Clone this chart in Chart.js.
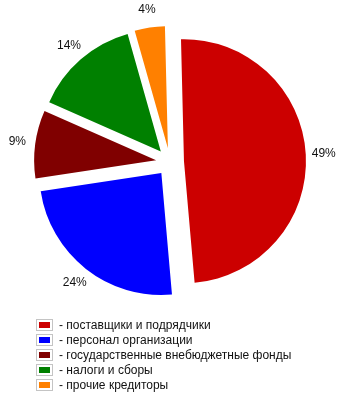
<!DOCTYPE html>
<html>
<head>
<meta charset="utf-8">
<script src="https://cdn.jsdelivr.net/npm/chart.js@4/dist/chart.umd.min.js"></script>
<style>
  body { margin: 0; background: #fff; }
  #wrap { position: relative; width: 346px; height: 402px; }
  #legend { position: absolute; left: 36px; top: 318px; font: 12px "Liberation Sans", Arial, sans-serif; color: #111; }
  .row { height: 15px; line-height: 15px; white-space: nowrap; }
  .box { display: inline-block; vertical-align: middle; border: 1px solid #c4c4c4; padding: 2px; margin-right: 6px; margin-top: -2px; }
  .box span { display: block; width: 11px; height: 6px; }
</style>
</head>
<body>
<div id="wrap">
  <canvas id="myChart" width="346" height="402"></canvas>
  <div id="legend"></div>
</div>
<script>
const categories = ['поставщики и подрядчики', 'персонал организации', 'государственные внебюджетные фонды', 'налоги и сборы', 'прочие кредиторы']
const shares = [49, 24, 9, 14, 4]
const colors = ['#cc0000', '#0000ff', '#800000', '#008000', '#ff8000']

const shift = 14  // how far each slice is pulled out

// draw slices pulled out along their middle angle
const explode = {
  id: 'explode',
  beforeDatasetDraw(chart, args) {
    const ctx = chart.ctx
    args.meta.data.forEach(arc => {
      const p = arc.getProps(['startAngle', 'endAngle'])
      const mid = (p.startAngle + p.endAngle) / 2
      ctx.save()
      ctx.translate(Math.cos(mid) * shift, Math.sin(mid) * shift)
      arc.draw(ctx)
      ctx.restore()
    })
    return false
  },
  afterDatasetsDraw(chart) {
    const ctx = chart.ctx
    const meta = chart.getDatasetMeta(0)
    ctx.save()
    ctx.font = '12px "Liberation Sans", Arial, sans-serif'
    ctx.fillStyle = '#111'
    ctx.textAlign = 'center'
    ctx.textBaseline = 'middle'
    meta.data.forEach((arc, i) => {
      const p = arc.getProps(['x', 'y', 'startAngle', 'endAngle', 'outerRadius'])
      const mid = (p.startAngle + p.endAngle) / 2
      const r = p.outerRadius + shift + 18
      ctx.fillText(shares[i] + '%', p.x + Math.cos(mid) * r, p.y + Math.sin(mid) * r)
    })
    ctx.restore()
  }
}

var ctx = document.getElementById('myChart').getContext('2d')
var myPieChart = new Chart(ctx, {
  type: 'pie',
  data: {
    labels: categories,
    datasets: [{
      data: shares,
      backgroundColor: colors,
      borderWidth: 0,
      hoverOffset: 0
    }]
  },
  options: {
    responsive: false,
    animation: false,
    rotation: -1.4,
    layout: { padding: { left: 48, right: 54, top: 40, bottom: 118 } },
    plugins: {
      legend: { display: false },
      tooltip: { enabled: false }
    }
  },
  plugins: [explode]
})

const legend = document.getElementById('legend')
categories.forEach((name, i) => {
  const row = document.createElement('div')
  row.className = 'row'
  row.innerHTML = '<span class="box"><span style="background:' + colors[i] + '"></span></span>- ' + name
  legend.appendChild(row)
})
</script>
</body>
</html>
